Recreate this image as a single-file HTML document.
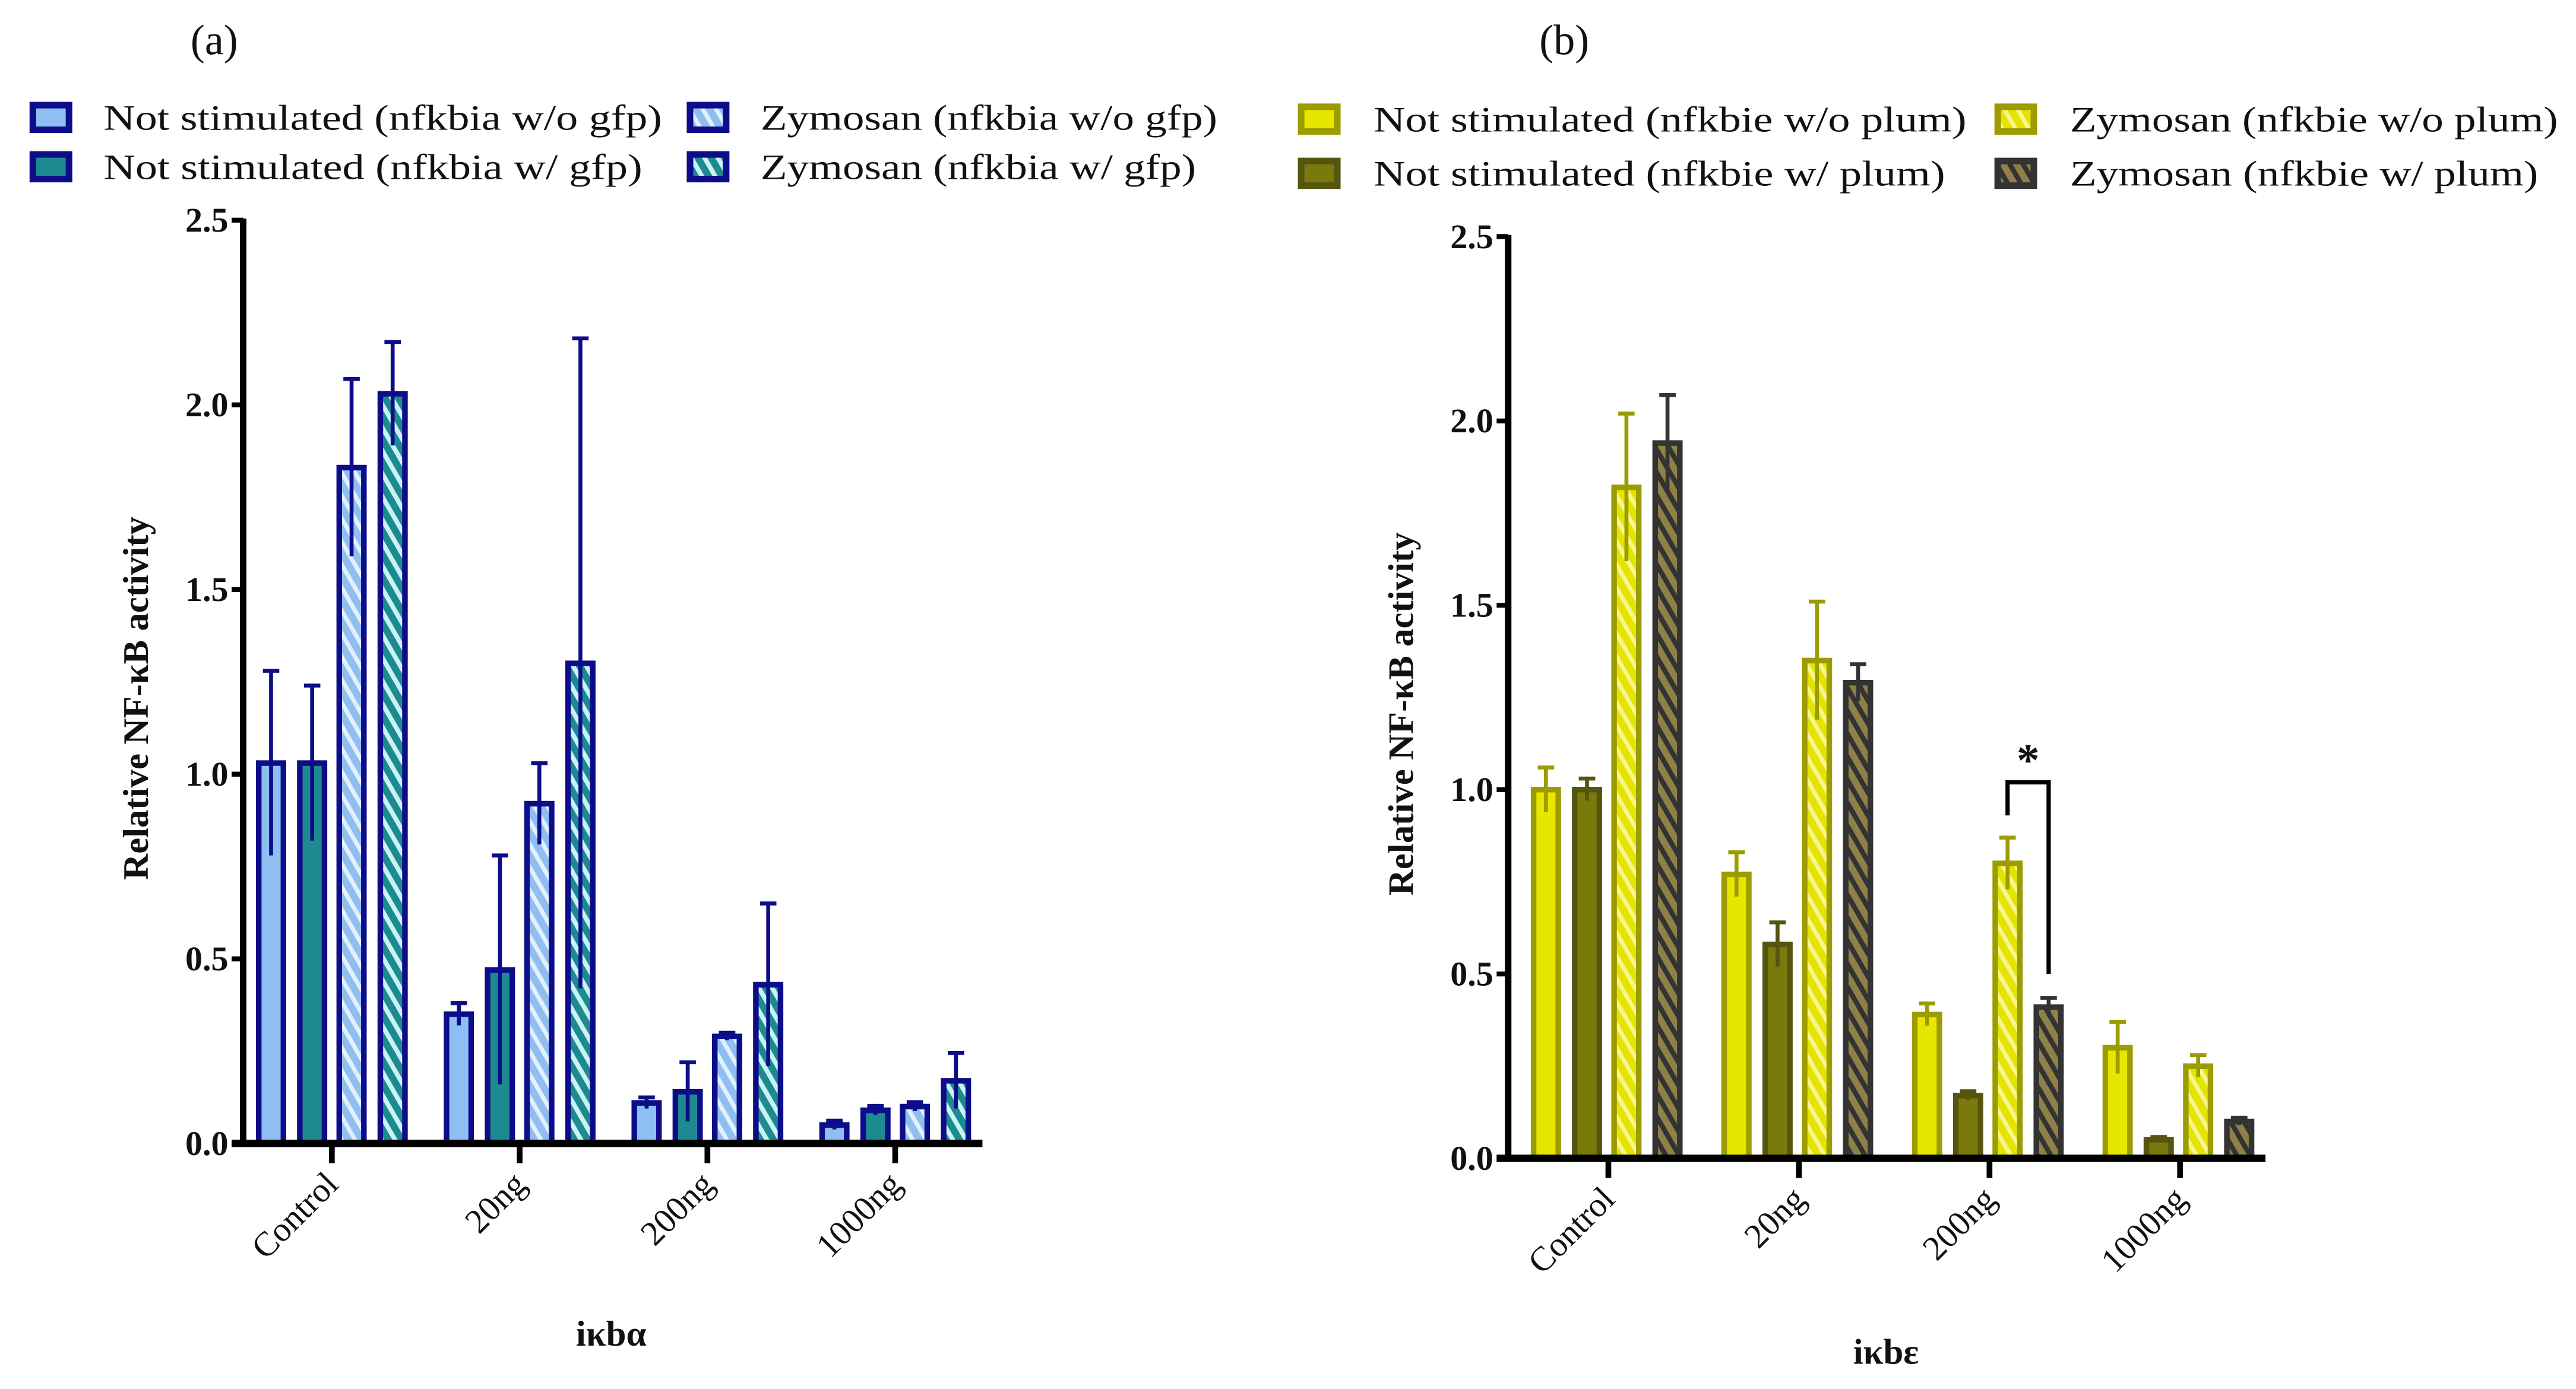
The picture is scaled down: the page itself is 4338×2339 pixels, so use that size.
<!DOCTYPE html>
<html><head><meta charset="utf-8"><style>
html,body{margin:0;padding:0;background:#fff;}
svg{display:block;}
text{font-family:"Liberation Serif",serif;fill:#111;}
</style></head><body>
<svg id="fig" width="4338" height="2339" viewBox="0 0 1568 845.4" preserveAspectRatio="none">
<defs>
<pattern id="hatA1" patternUnits="userSpaceOnUse" width="7" height="7" patternTransform="rotate(-30)"><rect width="7" height="7" fill="#8fbff2"/><rect width="2.6" height="7" fill="#e2f0ff"/></pattern>
<pattern id="hatA2" patternUnits="userSpaceOnUse" width="7" height="7" patternTransform="rotate(-30)"><rect width="7" height="7" fill="#1d8a92"/><rect width="2.8" height="7" fill="#c8f4f4"/></pattern>
<pattern id="hatB1" patternUnits="userSpaceOnUse" width="7" height="7" patternTransform="rotate(-30)"><rect width="7" height="7" fill="#e4e400"/><rect width="2.6" height="7" fill="#f6f690"/></pattern>
<pattern id="hatB2" patternUnits="userSpaceOnUse" width="7" height="7" patternTransform="rotate(-30)"><rect width="7" height="7" fill="#8f8048"/><rect width="3" height="7" fill="#333"/></pattern>
</defs>
<g id="root"></g>
</svg>
<script>
const categories = ["Control","20ng","200ng","1000ng"];
const seriesA1 = [1.03, 0.35, 0.11, 0.05];
const seriesA2 = [1.03, 0.47, 0.14, 0.09];
const seriesA3 = [1.83, 0.92, 0.29, 0.10];
const seriesA4 = [2.03, 1.30, 0.43, 0.17];
const errA1 = [0.25, 0.03, 0.015, 0.012];
const errA2 = [0.21, 0.31, 0.08, 0.012];
const errA3 = [0.24, 0.11, 0.01, 0.012];
const errA4 = [0.14, 0.88, 0.22, 0.075];
const seriesB1 = [1.00, 0.77, 0.39, 0.30];
const seriesB2 = [1.00, 0.58, 0.17, 0.05];
const seriesB3 = [1.82, 1.35, 0.80, 0.25];
const seriesB4 = [1.94, 1.29, 0.41, 0.10];
const errB1 = [0.06, 0.06, 0.03, 0.07];
const errB2 = [0.03, 0.06, 0.012, 0.008];
const errB3 = [0.20, 0.16, 0.07, 0.03];
const errB4 = [0.13, 0.05, 0.025, 0.01];
const yTicks = ["0.0","0.5","1.0","1.5","2.0","2.5"];

const NS="http://www.w3.org/2000/svg";
const root=document.getElementById('root');
function mk(tag,attrs,parent,txt){const e=document.createElementNS(NS,tag);for(const k in attrs)e.setAttribute(k,attrs[k]);if(txt!==undefined)e.textContent=txt;(parent||root).appendChild(e);return e;}

function panel(cfg){
  const g=mk('g',{});
  
  
  const y=v=>cfg.y0-(v/2.5)*(cfg.y0-cfg.yTop);
  const x=i=>cfg.tick0+i*cfg.tickStep;
  yTicks.forEach(t=>{const v=parseFloat(t);
    const l=mk('line',{x1:cfg.ax-7,x2:cfg.ax,y1:y(v),y2:y(v),stroke:'#000','stroke-width':3},g);
    
    const tx=mk('text',{x:cfg.ax-9,y:y(v)+7,'text-anchor':'end','font-size':21,'font-weight':'bold'},g,t);
    
  });
  const yt=mk('text',{x:0,y:0,'text-anchor':'middle','font-size':22,'font-weight':'bold',transform:`translate(${cfg.ax-58},${(cfg.y0+cfg.yTop)/2+10}) rotate(-90)`},g,'Relative NF-κB activity');
  
  cfg.series.forEach((s,si)=>{
    s.vals.forEach((v,ci)=>{
      const cx=x(ci)+cfg.offs[si];const w=cfg.bw;
      const top=y(v),bot=y(0);
      const r=mk('rect',{x:cx-w/2,y:top,width:w,height:bot-top,fill:s.fill,stroke:s.stroke,'stroke-width':3.4},g);
      
      
      const e=s.err[ci];
      const eb=mk('path',{d:`M${cx},${y(v-e)}V${y(v+e)}M${cx-5},${y(v+e)}H${cx+5}`,stroke:s.stroke,'stroke-width':2.4,fill:'none'},g);
      
    });
  });
  const axY=mk('line',{x1:cfg.ax,x2:cfg.ax,y1:cfg.yTop-1,y2:cfg.y0+1,stroke:'#000','stroke-width':4},g);
  
  const axX=mk('line',{x1:cfg.ax-7,x2:cfg.axEnd,y1:cfg.y0,y2:cfg.y0,stroke:'#000','stroke-width':4.5},g);
  
  categories.forEach((c,i)=>{
    const t=mk('line',{x1:x(i),x2:x(i),y1:cfg.y0,y2:cfg.y0+12,stroke:'#000','stroke-width':3.5},g);
    
    const lb=mk('text',{x:0,y:0,'text-anchor':'end','font-size':21,transform:`translate(${x(i)+5},${cfg.y0+26}) rotate(-45)`},g,c);
    
  });
  const xt=mk('text',{x:cfg.xTitleX,y:cfg.xTitleY,'text-anchor':'middle','font-size':22,'font-weight':'bold'},g,cfg.xTitle);
  
  return {g,x,y};
}

const pa=panel({name:'chart-a',ax:148,axEnd:598,y0:696,yTop:134,tick0:202,tickStep:114.3,bw:15,offs:[-37,-12,12,37],
  xTitle:'iκbα',xTitleX:372,xTitleY:819,
  series:[
   {key:'ns-wo-gfp',vals:seriesA1,err:errA1,fill:'#8fbff2',stroke:'#0d0d8a'},
   {key:'ns-w-gfp',vals:seriesA2,err:errA2,fill:'#1d8a92',stroke:'#0d0d8a'},
   {key:'zym-wo-gfp',vals:seriesA3,err:errA3,fill:'url(#hatA1)',stroke:'#0d0d8a'},
   {key:'zym-w-gfp',vals:seriesA4,err:errA4,fill:'url(#hatA2)',stroke:'#0d0d8a'}]});
const pb=panel({name:'chart-b',ax:918,axEnd:1379,y0:705,yTop:144,tick0:979,tickStep:116,bw:15,offs:[-38,-13,11,36],
  xTitle:'iκbε',xTitleX:1148,xTitleY:830,
  series:[
   {key:'ns-wo-plum',vals:seriesB1,err:errB1,fill:'#e6e600',stroke:'#9c9c00'},
   {key:'ns-w-plum',vals:seriesB2,err:errB2,fill:'#7a7a0c',stroke:'#55550e'},
   {key:'zym-wo-plum',vals:seriesB3,err:errB3,fill:'url(#hatB1)',stroke:'#9c9c00'},
   {key:'zym-w-plum',vals:seriesB4,err:errB4,fill:'url(#hatB2)',stroke:'#333'}]});

const bx1=pb.x(2)+11, bx2=pb.x(2)+36;
const br=mk('path',{d:`M${bx1},${pb.y(0.93)}V${pb.y(1.02)}H${bx2}V${pb.y(0.5)}`,stroke:'#000','stroke-width':2.6,fill:'none'});


const st=mk('text',{x:(bx1+bx2)/2,y:pb.y(1.02)-4,'text-anchor':'middle','font-size':28,'font-weight':'bold'},root,'*');



const la=mk('text',{x:116,y:33,'font-size':26},root,'(a)');


const lbb=mk('text',{x:937,y:33,'font-size':26},root,'(b)');



const legA=[
 {x:18,y:62,fill:'#8fbff2',stroke:'#0d0d8a',tx:63,len:340,t:'Not stimulated (nfkbia w/o gfp)'},
 {x:18,y:92,fill:'#1d8a92',stroke:'#0d0d8a',tx:63,len:328,t:'Not stimulated (nfkbia w/ gfp)'},
 {x:418,y:62,fill:'url(#hatA1)',stroke:'#0d0d8a',tx:463,len:278,t:'Zymosan (nfkbia w/o gfp)'},
 {x:418,y:92,fill:'url(#hatA2)',stroke:'#0d0d8a',tx:463,len:265,t:'Zymosan (nfkbia w/ gfp)'},
 {x:790,y:63,fill:'#e6e600',stroke:'#9c9c00',tx:836,len:361,t:'Not stimulated (nfkbie w/o plum)'},
 {x:790,y:96,fill:'#7a7a0c',stroke:'#55550e',tx:836,len:348,t:'Not stimulated (nfkbie w/ plum)'},
 {x:1214,y:63,fill:'url(#hatB1)',stroke:'#9c9c00',tx:1260,len:297,t:'Zymosan (nfkbie w/o plum)'},
 {x:1214,y:96,fill:'url(#hatB2)',stroke:'#333',tx:1260,len:285,t:'Zymosan (nfkbie w/ plum)'}];
legA.forEach(l=>{
  const r=mk('rect',{x:l.x+2,y:l.y+2,width:22,height:15,fill:l.fill,stroke:l.stroke,'stroke-width':4});
  
  
  const t=mk('text',{x:l.tx,y:l.y+17,'font-size':22,textLength:l.len,lengthAdjust:'spacingAndGlyphs'},root,l.t);
  
  
});
</script>
</body></html>
